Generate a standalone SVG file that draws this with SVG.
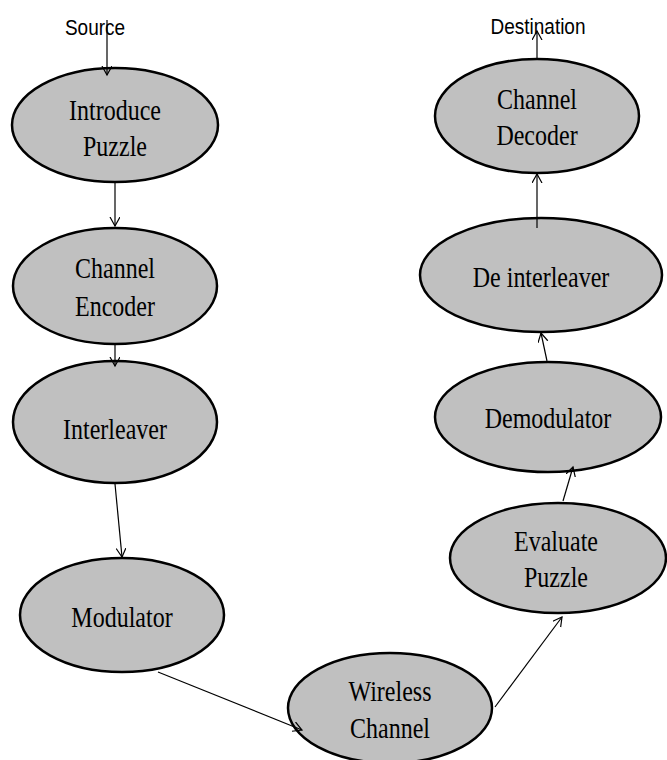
<svg xmlns="http://www.w3.org/2000/svg" width="667" height="760" viewBox="0 0 667 760">
<style>
.node{fill:#c0c0c0;stroke:#000;stroke-width:2.5}
.lbl{font-family:"Liberation Serif","Times New Roman",serif;font-size:24px;fill:#000;text-anchor:middle}
.io{font-family:"Liberation Sans",Arial,sans-serif;font-size:19px;fill:#000;text-anchor:middle}
.edge{stroke:#000;stroke-width:1.2;fill:none;marker-end:url(#ah)}
</style>
<defs>
<marker id="ah" markerUnits="userSpaceOnUse" markerWidth="12" markerHeight="12" refX="9" refY="5" orient="auto">
<path d="M0,0 L9,5 L0,10" fill="none" stroke="#000" stroke-width="1.2"/>
</marker>
</defs>
<rect width="667" height="760" fill="#fff"/>
<g id="labels">
<text class="io" transform="translate(95,35) scale(1,1.2)">Source</text>
<text class="io" transform="translate(538,34) scale(1,1.2)">Destination</text>
</g>
<g id="introduce-puzzle">
<ellipse class="node" cx="115" cy="125" rx="103" ry="57"/>
<text class="lbl" transform="translate(115,120) scale(1,1.25)">Introduce</text>
<text class="lbl" transform="translate(115,156) scale(1,1.25)">Puzzle</text>
</g>
<g id="channel-encoder">
<ellipse class="node" cx="115" cy="286" rx="102" ry="58"/>
<text class="lbl" transform="translate(115,278) scale(1,1.25)">Channel</text>
<text class="lbl" transform="translate(115,316) scale(1,1.25)">Encoder</text>
</g>
<g id="interleaver">
<ellipse class="node" cx="115" cy="422" rx="102" ry="61"/>
<text class="lbl" transform="translate(115,439) scale(1,1.25)">Interleaver</text>
</g>
<g id="modulator">
<ellipse class="node" cx="122" cy="615" rx="102" ry="57"/>
<text class="lbl" transform="translate(122,627) scale(1,1.25)">Modulator</text>
</g>
<g id="wireless-channel">
<ellipse class="node" cx="390" cy="708" rx="102" ry="55"/>
<text class="lbl" transform="translate(390,701) scale(1,1.25)">Wireless</text>
<text class="lbl" transform="translate(390,738) scale(1,1.25)">Channel</text>
</g>
<g id="evaluate-puzzle">
<ellipse class="node" cx="558" cy="558" rx="108" ry="55"/>
<text class="lbl" transform="translate(556,551) scale(1,1.25)">Evaluate</text>
<text class="lbl" transform="translate(556,587) scale(1,1.25)">Puzzle</text>
</g>
<g id="demodulator">
<ellipse class="node" cx="548" cy="417" rx="113" ry="55"/>
<text class="lbl" transform="translate(548,428) scale(1,1.25)">Demodulator</text>
</g>
<g id="de-interleaver">
<ellipse class="node" cx="541" cy="275" rx="121" ry="57"/>
<text class="lbl" transform="translate(541,287) scale(1,1.25)">De interleaver</text>
</g>
<g id="channel-decoder">
<ellipse class="node" cx="537" cy="116" rx="102" ry="57"/>
<text class="lbl" transform="translate(537,109) scale(1,1.25)">Channel</text>
<text class="lbl" transform="translate(537,145) scale(1,1.25)">Decoder</text>
</g>
<g id="connectors">
<line class="edge" x1="107" y1="20" x2="107" y2="75"/>
<line class="edge" x1="115" y1="183" x2="115" y2="226"/>
<line class="edge" x1="115" y1="345" x2="115" y2="366"/>
<line class="edge" x1="115" y1="484" x2="122" y2="557"/>
<line class="edge" x1="158" y1="672" x2="302" y2="730"/>
<line class="edge" x1="495" y1="707" x2="562" y2="617"/>
<line class="edge" x1="563" y1="501" x2="573" y2="467"/>
<line class="edge" x1="547" y1="361" x2="541" y2="333"/>
<line class="edge" x1="537" y1="228" x2="537" y2="174"/>
<line class="edge" x1="537" y1="59" x2="537" y2="31"/>
</g>
</svg>
